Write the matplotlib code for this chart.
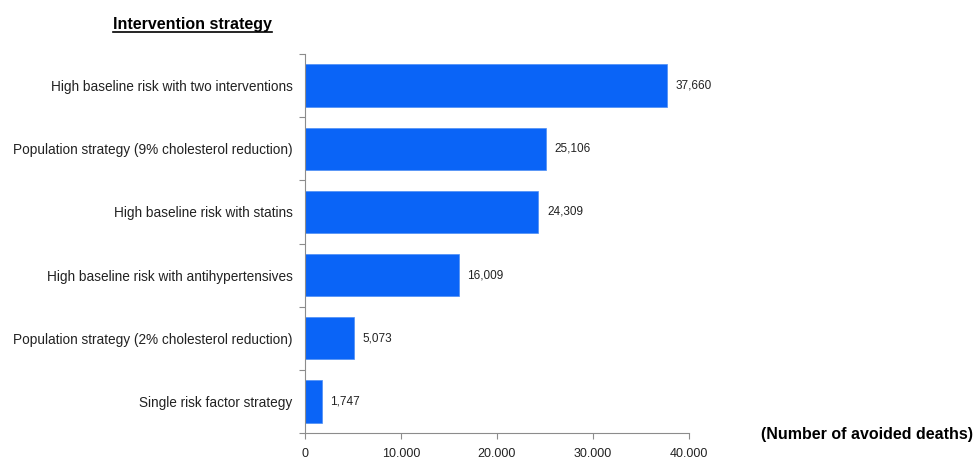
import numpy as np
import matplotlib
matplotlib.use("Agg")
from matplotlib import pyplot as plt
from matplotlib.lines import Line2D

plt.rcParams["font.family"] = ["Liberation Sans", "DejaVu Sans"]

strategies = [
    "High baseline risk with two interventions",
    "Population strategy (9% cholesterol reduction)",
    "High baseline risk with statins",
    "High baseline risk with antihypertensives",
    "Population strategy (2% cholesterol reduction)",
    "Single risk factor strategy",
]
avoided_deaths = [37660, 25106, 24309, 16009, 5073, 1747]
x_ticks = [0, 10000, 20000, 30000, 40000]
x_tick_labels = ["0", "10.000", "20.000", "30.000", "40.000"]

bar_color = "#0a64f7"
axis_color = "#8c8c8c"

fig = plt.figure(figsize=(9.73, 4.59), dpi=100)
ax = fig.add_axes([305 / 973, 1 - 433 / 459, 384 / 973, 379 / 459])

n = len(strategies)
ypos = np.arange(n)[::-1]
ax.barh(ypos, avoided_deaths, height=0.67, color=bar_color,
        edgecolor="#4d8ef5", linewidth=0.5)

for y, v in zip(ypos, avoided_deaths):
    ax.text(v + 900, y, f"{v:,}", va="center", ha="left", fontsize=8.5, color="#222222")

ax.set_xlim(0, 40000)
ax.set_ylim(-0.5, n - 0.5)
ax.set_xticks(x_ticks)
ax.set_xticklabels(x_tick_labels, fontsize=9, color="#222222")

# category labels centred on bars, tick marks on the category boundaries
ax.set_yticks(ypos)
ax.set_yticklabels(strategies, fontsize=9.8, color="#222222")
ax.tick_params(axis="y", which="major", length=0, pad=9)
ax.set_yticks(np.arange(n + 1) - 0.5, minor=True)
ax.tick_params(axis="y", which="minor", length=4, color=axis_color, width=0.8)
ax.tick_params(axis="x", length=4, color=axis_color, width=0.8, pad=7)

for side in ["top", "right"]:
    ax.spines[side].set_visible(False)
for side in ["left", "bottom"]:
    ax.spines[side].set_color(axis_color)
    ax.spines[side].set_linewidth(0.8)

title = fig.text(113 / 973, 1 - 24 / 459, "Intervention strategy",
                 fontsize=11.5, fontweight="bold", va="center", ha="left")
fig.canvas.draw()
bb = title.get_window_extent().transformed(fig.transFigure.inverted())
fig.add_artist(Line2D([bb.x0, bb.x1], [bb.y0 - 0.001, bb.y0 - 0.001],
                      transform=fig.transFigure, color="black", linewidth=1.2))

fig.text(973 / 973, 1 - 434 / 459, "(Number of avoided deaths)",
         fontsize=11.5, fontweight="bold", va="center", ha="right")

fig.savefig("out.png", dpi=100)
